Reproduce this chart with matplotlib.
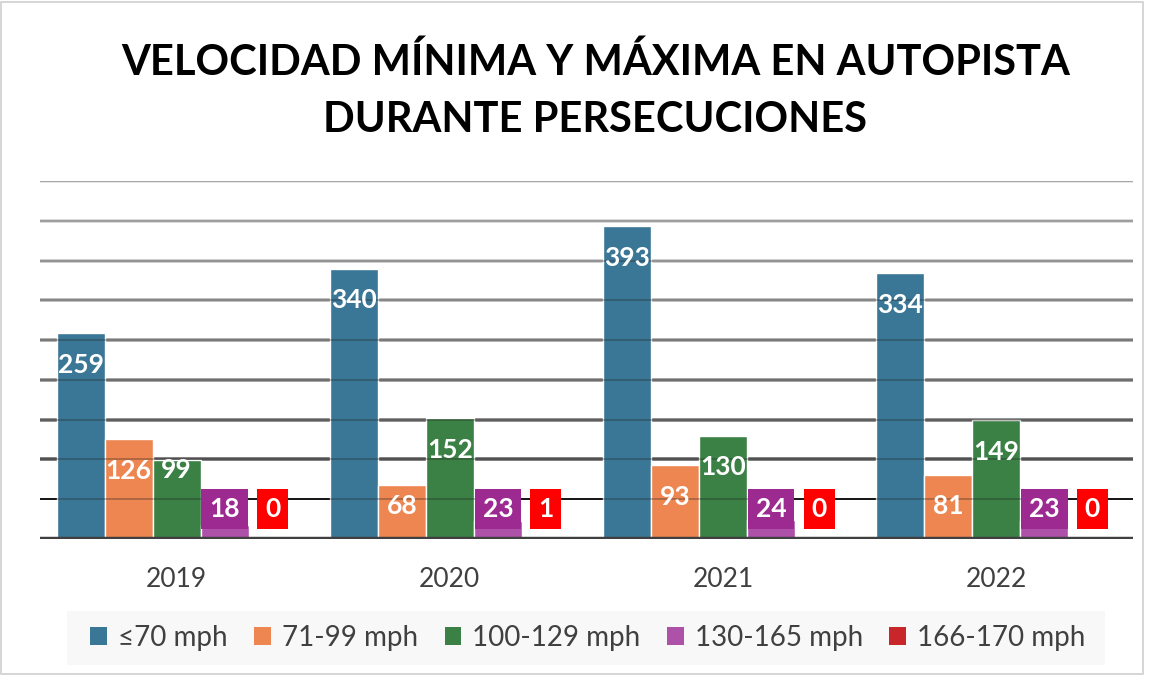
import matplotlib
matplotlib.use("Agg")
import matplotlib.pyplot as plt
from matplotlib.patches import Rectangle
import numpy as np

plt.rcParams['font.family'] = ['Lato', 'DejaVu Sans']

years = ["2019", "2020", "2021", "2022"]
series = ["≤70 mph", "71-99 mph", "100-129 mph", "130-165 mph", "166-170 mph"]
s_le70 = [259, 340, 393, 334]
s_71_99 = [126, 68, 93, 81]
s_100_129 = [99, 152, 130, 149]
s_130_165 = [18, 23, 24, 23]
s_166_170 = [0, 1, 0, 0]
values = [s_le70, s_71_99, s_100_129, s_130_165, s_166_170]

bar_colors = ["#3A7696", "#ED8651", "#3B8044", "#AD52A8", "#C8262B"]
label_box = [None, None, None, "#9C2A91", "#FF0000"]

W, H = 1156, 675
fig = plt.figure(figsize=(W / 100, H / 100), dpi=100)
fig.patch.set_facecolor("white")
fig.patches.append(Rectangle((1 / W, 1 / H), 1 - 14 / W, 1 - 3 / H, transform=fig.transFigure,
                             fill=False, edgecolor="#D0D0D0", lw=1.2))

ax_l, ax_r = 40 / W, 1133 / W
ax_b, ax_t = 1 - 539 / H, 1 - 181 / H
ax = fig.add_axes([ax_l, ax_b, ax_r - ax_l, ax_t - ax_b])
ax.set_xlim(-0.5, 3.5)
ax.set_ylim(0, 450)
for s in ax.spines.values():
    s.set_visible(False)
ax.set_yticks([])

# gridlines with gradient
grid_vals = np.arange(50, 451, 50)
shades = {450: "#E0E0E0", 400: "#D2D2D2", 350: "#C4C4C4", 300: "#B2B2B2", 250: "#A0A0A0",
          200: "#8E8E8E", 150: "#7A7A7A", 100: "#666666", 50: "#111111"}
for g in grid_vals:
    c = shades[g]
    lw = 1.4 if g == 50 else 2.6
    ax.axhline(g, color=c, lw=lw, zorder=1)
    ax.axhline(g, color="#202020", lw=1.2, alpha=0.35, zorder=3)
ax.axhline(0, color="#404040", lw=3.2, zorder=4)

n = len(series)
bw = 48 / 273.25
x = np.arange(len(years))
for i, (vals, col) in enumerate(zip(values, bar_colors)):
    pos = x + (i - (n - 1) / 2) * bw
    ax.bar(pos, vals, width=bw, color=col, edgecolor="white", linewidth=1.0, zorder=2, label=series[i])
    for j, (p, v) in enumerate(zip(pos, vals)):
        if label_box[i] is None:
            ly = max(v - 40, 41.5)
            if i == 2 and v < 100:
                ly = v - 12
            ax.text(p, ly, str(v), ha="center", va="center", color="white",
                    fontsize=19, fontweight="bold", zorder=6)
        else:
            ax.text(p, 38, str(v), ha="center", va="center", color="white",
                    fontsize=19, fontweight="bold", zorder=6,
                    bbox=dict(boxstyle="square,pad=0.3", fc=label_box[i], ec="none"))

ax.set_xticks(x)
ax.set_xticklabels(years, fontsize=19, color="#404040")
ax.tick_params(axis="x", length=0, pad=20)

fig.text(0.515, 1 - 62 / H, "VELOCIDAD MÍNIMA Y MÁXIMA EN AUTOPISTA", ha="center", va="center",
         fontsize=30, fontweight="bold", color="black")
fig.text(0.515, 1 - 120 / H, "DURANTE PERSECUCIONES", ha="center", va="center",
         fontsize=30, fontweight="bold", color="black")

# legend background
fig.patches.append(Rectangle((67 / W, 1 - 665 / H), (1105 - 67) / W, (665 - 611) / H,
                             transform=fig.transFigure, fc="#F8F8F8", ec="none", zorder=0))
handles, labels = ax.get_legend_handles_labels()
leg = fig.legend(handles, labels, loc="center", bbox_to_anchor=(588 / W, 1 - 638 / H), ncol=5,
                 frameon=False, fontsize=20, handlelength=0.6, handleheight=0.6,
                 handletextpad=0.4, columnspacing=0.95, labelcolor="#404040")
for h in leg.legend_handles:
    h.set_edgecolor("none")

fig.savefig("out.png", dpi=100)
